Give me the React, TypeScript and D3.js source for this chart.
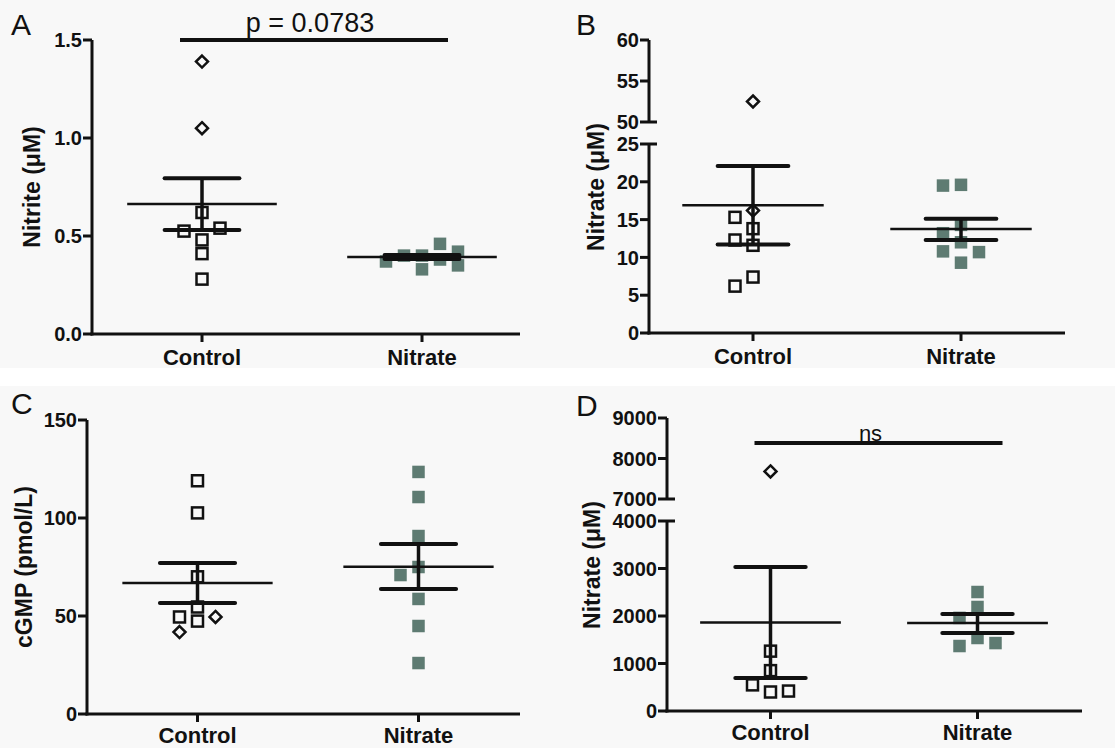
import React from "react";
import * as d3 from "d3";

const categories = ["Control", "Nitrate"];

// Panel A — Nitrite (μM)
const aTicks = [0, 0.5, 1.0, 1.5];
const aControlDiamonds = [1.39, 1.05];
const aControlSquares = [0.62, 0.48, 0.525, 0.54, 0.41, 0.28];
const aNitrate = [0.4, 0.4, 0.38, 0.37, 0.42, 0.35, 0.46, 0.33];
const aMean = [0.663, 0.393];
const aSemUpper = [0.795, 0.403];
const aSemLower = [0.53, 0.383];
const aSigText = "p = 0.0783";
const aSigValue = 1.5;

// Panel B — Nitrate (μM), broken axis
const bTicksLower = [0, 5, 10, 15, 20, 25];
const bTicksUpper = [50, 55, 60];
const bControlDiamonds = [52.5, 16.2];
const bControlSquares = [15.3, 13.8, 12.3, 11.6, 7.4, 6.2];
const bNitrate = [19.6, 19.5, 14.3, 13.2, 12.0, 10.8, 10.7, 9.3];
const bMean = [16.9, 13.75];
const bSemUpper = [22.1, 15.1];
const bSemLower = [11.7, 12.3];

// Panel C — cGMP (pmol/L)
const cTicks = [0, 50, 100, 150];
const cControlSquares = [119, 102.6, 70, 54.6, 49.5, 47.4];
const cControlDiamonds = [41.8, 49.5];
const cNitrate = [123.5, 110.7, 90.8, 75, 70.9, 58.7, 44.9, 26];
const cMean = [66.8, 75.1];
const cSemUpper = [77, 86.7];
const cSemLower = [56.6, 63.8];

// Panel D — Nitrate (μM), broken axis
const dTicksLower = [0, 1000, 2000, 3000, 4000];
const dTicksUpper = [7000, 8000, 9000];
const dControlDiamonds = [7680];
const dControlSquares = [1260, 850, 400, 550, 420];
const dNitrate = [2505, 2190, 1960, 1537, 1368, 1430];
const dMean = [1863, 1853];
const dSemUpper = [3032, 2042];
const dSemLower = [694, 1642];
const dSigText = "ns";
const dSigValue = 8380;

type Pt = { v: number; kind: "sq" | "dia" | "fill" };
type Seg = { domain: [number, number]; range: [number, number]; ticks: number[] };
type Spec = {
  letter: string;
  letterPos: [number, number];
  axisX: number;
  axisEnd: number;
  step: number;
  lower: Seg;
  upper?: Seg;
  fmt: (v: number) => string;
  title: string;
  titlePos: [number, number];
  labelDy: number;
  groups: { pts: Pt[]; mean: number; hi: number; lo: number }[];
  sig?: { text: string; value: number; x0: number; x1: number; dx: number; dy: number; size: number };
};

const ink = "#111";
const fillCol = "#5e7b72";
const FONT = "'Liberation Sans', Arial, Helvetica, sans-serif";

function mkSqFirst(squares: number[], diamonds: number[]): Pt[] {
  return [
    ...squares.map((v) => ({ v, kind: "sq" as const })),
    ...diamonds.map((v) => ({ v, kind: "dia" as const })),
  ];
}
function mk(diamonds: number[], squares: number[]): Pt[] {
  return [
    ...diamonds.map((v) => ({ v, kind: "dia" as const })),
    ...squares.map((v) => ({ v, kind: "sq" as const })),
  ];
}
function mkFill(vals: number[]): Pt[] {
  return vals.map((v) => ({ v, kind: "fill" as const }));
}

const specs: Spec[] = [
  {
    letter: "A",
    letterPos: [11, 35],
    axisX: 92,
    axisEnd: 520,
    step: 220,
    lower: { domain: [0, 1.5], range: [334, 40], ticks: aTicks },
    fmt: d3.format(".1f"),
    title: "Nitrite (\u03bcM)",
    titlePos: [40, 187],
    labelDy: 31,
    groups: [
      { pts: mk(aControlDiamonds, aControlSquares), mean: aMean[0], hi: aSemUpper[0], lo: aSemLower[0] },
      { pts: mkFill(aNitrate), mean: aMean[1], hi: aSemUpper[1], lo: aSemLower[1] },
    ],
    sig: { text: aSigText, value: aSigValue, x0: -22, x1: 26, dx: -4, dy: -8, size: 27 },
  },
  {
    letter: "B",
    letterPos: [576, 35],
    axisX: 649,
    axisEnd: 1065,
    step: 208,
    lower: { domain: [0, 25], range: [333, 144], ticks: bTicksLower },
    upper: { domain: [50, 60], range: [122, 40], ticks: bTicksUpper },
    fmt: d3.format("d"),
    title: "Nitrate (\u03bcM)",
    titlePos: [604, 187],
    labelDy: 31,
    groups: [
      { pts: mk(bControlDiamonds, bControlSquares), mean: bMean[0], hi: bSemUpper[0], lo: bSemLower[0] },
      { pts: mkFill(bNitrate), mean: bMean[1], hi: bSemUpper[1], lo: bSemLower[1] },
    ],
  },
  {
    letter: "C",
    letterPos: [11, 414],
    axisX: 87,
    axisEnd: 520,
    step: 221,
    lower: { domain: [0, 150], range: [714, 420], ticks: cTicks },
    fmt: d3.format("d"),
    title: "cGMP (pmol/L)",
    titlePos: [32, 567],
    labelDy: 29,
    groups: [
      { pts: mkSqFirst(cControlSquares, cControlDiamonds), mean: cMean[0], hi: cSemUpper[0], lo: cSemLower[0] },
      { pts: mkFill(cNitrate), mean: cMean[1], hi: cSemUpper[1], lo: cSemLower[1] },
    ],
  },
  {
    letter: "D",
    letterPos: [576, 416],
    axisX: 667,
    axisEnd: 1082,
    step: 207,
    lower: { domain: [0, 4000], range: [711, 521], ticks: dTicksLower },
    upper: { domain: [7000, 9000], range: [499, 418], ticks: dTicksUpper },
    fmt: d3.format("d"),
    title: "Nitrate (\u03bcM)",
    titlePos: [600, 565],
    labelDy: 29,
    groups: [
      { pts: mk(dControlDiamonds, dControlSquares), mean: dMean[0], hi: dSemUpper[0], lo: dSemLower[0] },
      { pts: mkFill(dNitrate), mean: dMean[1], hi: dSemUpper[1], lo: dSemLower[1] },
    ],
    sig: { text: dSigText, value: dSigValue, x0: -16, x1: 25, dx: -8, dy: -2, size: 22 },
  },
];

// deterministic beeswarm: offsets 0, -s, +s, -2s, +2s ...
function swarm(ys: number[], step: number, thr: number): number[] {
  const placed: { x: number; y: number }[] = [];
  const out: number[] = [];
  ys.forEach((y) => {
    let k = 0;
    while (true) {
      const m = Math.ceil(k / 2);
      const off = k === 0 ? 0 : (k % 2 === 1 ? -1 : 1) * m * step;
      const hit = placed.some((p) => Math.abs(p.x - off) < thr && Math.abs(p.y - y) < thr);
      if (!hit) {
        placed.push({ x: off, y });
        out.push(off);
        break;
      }
      k++;
    }
  });
  return out;
}

function Panel({ s }: { s: Spec }) {
  const x = d3
    .scalePoint<string>()
    .domain(categories)
    .range([s.axisX, s.axisX + 2 * s.step])
    .padding(0.5);
  const yl = d3.scaleLinear().domain(s.lower.domain).range(s.lower.range);
  const yu = s.upper ? d3.scaleLinear().domain(s.upper.domain).range(s.upper.range) : null;
  const y = (v: number) => (yu && s.upper && v >= s.upper.domain[0] ? yu(v) : yl(v));
  const baseY = s.lower.range[0];
  const tickLen = 9;
  const segs: { seg: Seg; sc: d3.ScaleLinear<number, number>; isUpper: boolean }[] = [
    { seg: s.lower, sc: yl, isUpper: false },
  ];
  if (s.upper && yu) segs.push({ seg: s.upper, sc: yu, isUpper: true });
  const meanHalf = 0.34 * s.step;
  const semHalf = 0.17 * s.step;

  return (
    <g>
      <text x={s.letterPos[0]} y={s.letterPos[1]} fontSize={30} fontFamily={FONT} fill={ink}>
        {s.letter}
      </text>
      {/* y axis */}
      {segs.map(({ seg, sc, isUpper }, i) => (
        <g key={i}>
          <line x1={s.axisX} x2={s.axisX} y1={seg.range[0] + (isUpper ? 0 : 1.5)} y2={seg.range[1]} stroke={ink} strokeWidth={3} />
          {seg.ticks.map((t) => {
            const isBreak = s.upper ? (isUpper ? t === seg.domain[0] : t === seg.domain[1]) : false;
            return (
              <g key={t}>
                <line
                  x1={s.axisX - tickLen}
                  x2={isBreak ? s.axisX + 8 : s.axisX}
                  y1={sc(t)}
                  y2={sc(t)}
                  stroke={ink}
                  strokeWidth={3}
                />
                <text
                  x={s.axisX - tickLen - 1}
                  y={sc(t)}
                  dy="0.36em"
                  textAnchor="end"
                  fontSize={20}
                  fontWeight="bold"
                  fontFamily={FONT}
                  fill={ink}
                >
                  {s.fmt(t)}
                </text>
              </g>
            );
          })}
        </g>
      ))}
      {/* x axis */}
      <line x1={s.axisX - 1.5} x2={s.axisEnd} y1={baseY} y2={baseY} stroke={ink} strokeWidth={3} />
      {categories.map((c) => (
        <g key={c}>
          <line x1={x(c)!} x2={x(c)!} y1={baseY} y2={baseY + 8} stroke={ink} strokeWidth={3} />
          <text
            x={x(c)!}
            y={baseY + s.labelDy}
            textAnchor="middle"
            fontSize={22}
            fontWeight="bold"
            fontFamily={FONT}
            fill={ink}
          >
            {c}
          </text>
        </g>
      ))}
      {/* y title */}
      <text
        transform={`translate(${s.titlePos[0]},${s.titlePos[1]}) rotate(-90)`}
        textAnchor="middle"
        fontSize={23}
        fontWeight="bold"
        fontFamily={FONT}
        fill={ink}
      >
        {s.title}
      </text>
      {/* groups */}
      {s.groups.map((g, gi) => {
        const cx = x(categories[gi])!;
        const ys = g.pts.map((p) => y(p.v));
        const offs = swarm(ys, 9, 13);
        return (
          <g key={gi}>
            {g.pts.map((p, i) => {
              const px = cx + offs[i];
              const py = ys[i];
              if (p.kind === "fill")
                return <rect key={i} x={px - 6.25} y={py - 6.25} width={12.5} height={12.5} fill={fillCol} />;
              if (p.kind === "sq")
                return (
                  <rect key={i} x={px - 5.5} y={py - 5.5} width={11} height={11} fill="none" stroke={ink} strokeWidth={2.5} />
                );
              const r = 6;
              return (
                <path
                  key={i}
                  d={`M${px},${py - r}L${px + r},${py}L${px},${py + r}L${px - r},${py}Z`}
                  fill="none"
                  stroke={ink}
                  strokeWidth={2.5}
                />
              );
            })}
            <line x1={cx} x2={cx} y1={y(g.hi)} y2={y(g.lo)} stroke={ink} strokeWidth={3.5} />
            <line x1={cx - semHalf} x2={cx + semHalf} y1={y(g.hi)} y2={y(g.hi)} stroke={ink} strokeWidth={4} strokeLinecap="round" />
            <line x1={cx - semHalf} x2={cx + semHalf} y1={y(g.lo)} y2={y(g.lo)} stroke={ink} strokeWidth={4} strokeLinecap="round" />
            <line x1={cx - meanHalf} x2={cx + meanHalf} y1={y(g.mean)} y2={y(g.mean)} stroke={ink} strokeWidth={2.5} />
          </g>
        );
      })}
      {s.sig && (
        <g>
          <line
            x1={x(categories[0])! + s.sig.x0}
            x2={x(categories[1])! + s.sig.x1}
            y1={y(s.sig.value)}
            y2={y(s.sig.value)}
            stroke={ink}
            strokeWidth={4}
          />
          <text
            x={(x(categories[0])! + s.sig.x0 + x(categories[1])! + s.sig.x1) / 2 + s.sig.dx}
            y={y(s.sig.value) + s.sig.dy}
            textAnchor="middle"
            fontSize={s.sig.size}
            fontFamily={FONT}
            fill={ink}
          >
            {s.sig.text}
          </text>
        </g>
      )}
    </g>
  );
}

export default function App() {
  return (
    <svg
      width={1115}
      height={748}
      style={{ position: "absolute", left: 0, top: 0, display: "block" }}
    >
      <rect x={0} y={0} width={1115} height={748} fill="#f8f8f8" />
      <rect x={0} y={368} width={1115} height={18} fill="#ffffff" />
      {specs.map((s) => (
        <Panel key={s.letter} s={s} />
      ))}
    </svg>
  );
}
